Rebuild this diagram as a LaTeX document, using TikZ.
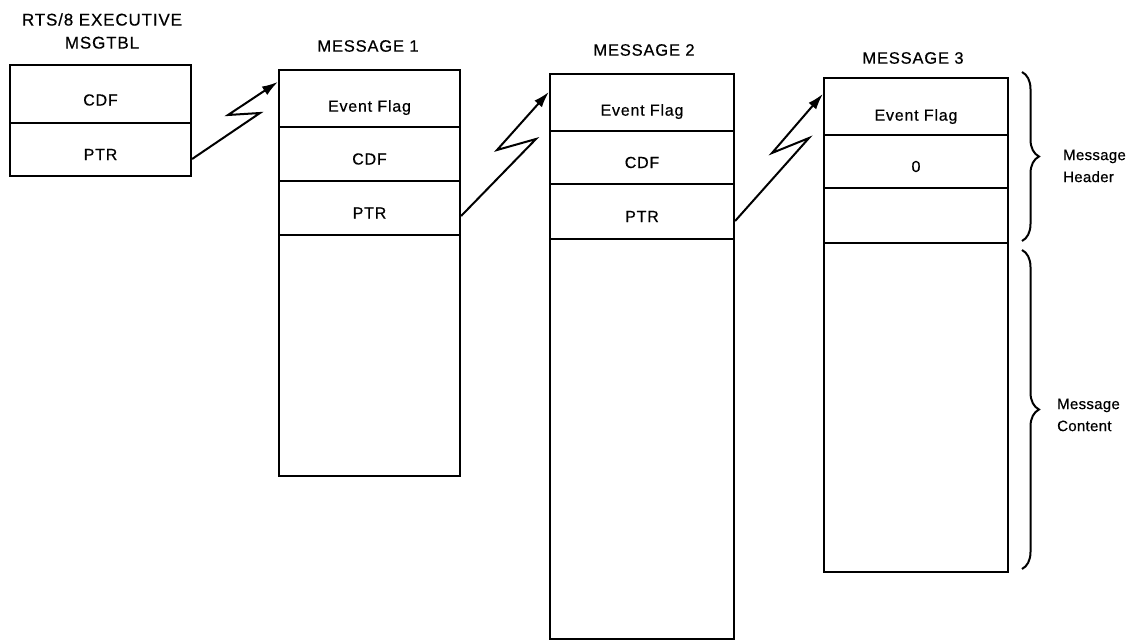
\documentclass[tikz,border=0pt]{standalone}
\usepackage{fontspec}
\setmainfont{Liberation Sans}[LetterSpace=5,FakeBold=0.5]
\newfontfamily\lblfont{Liberation Sans}[LetterSpace=2,FakeBold=0.5]
\usetikzlibrary{arrows.meta,decorations.pathreplacing}
\begin{document}
\begin{tikzpicture}[x=1pt,y=-1pt,
  cell/.style 2 args={draw,line width=2.2pt,inner sep=0pt,minimum width=#1pt,minimum height=#2pt},
  txt/.style={font=\fontsize{16}{19}\selectfont,inner sep=0pt},
  ttl/.style={font=\fontsize{16.5}{23}\selectfont,align=center,inner sep=0pt},
  lbl/.style={font=\lblfont\fontsize{15}{22}\selectfont,align=left,anchor=west,inner sep=0pt},
  conn/.style={line width=2pt,-{Latex[length=16pt,width=10pt]}},
  brc/.style={line width=2pt,decorate,decoration={brace,amplitude=17pt}}
]
\useasboundingbox (0,0) rectangle (1128,642);

% MSGTBL
\node[ttl,font=\fontsize{17}{23}\selectfont] (ttl0) at (102,31) {RTS/8 EXECUTIVE\\MSGTBL};
\node[cell={181}{58}] (t1) at (100.5,94) {};
\node[cell={181}{53}] (t2) at (100.5,149.5) {};
\node[txt] (t1x) at ([yshift=-6pt]t1.center) {CDF};
\node[txt] (t2x) at ([yshift=-5pt]t2.center) {PTR};

% MESSAGE 1
\node[ttl] (ttl1) at (368,46) {MESSAGE 1};
\node[cell={181}{57}] (m1a) at (369.5,98.5) {};
\node[cell={181}{54}] (m1b) at (369.5,154) {};
\node[cell={181}{54}] (m1c) at (369.5,208) {};
\node[cell={181}{241}] (m1d) at (369.5,355.5) {};
\node[txt] (m1ax) at ([yshift=-9pt]m1a.center) {Event Flag};
\node[txt] (m1bx) at ([yshift=-5pt]m1b.center) {CDF};
\node[txt] (m1cx) at ([yshift=-5pt]m1c.center) {PTR};

% MESSAGE 2
\node[ttl] (ttl2) at (644,50) {MESSAGE 2};
\node[cell={184}{57}] (m2a) at (642,102.5) {};
\node[cell={184}{53}] (m2b) at (642,157.5) {};
\node[cell={184}{55}] (m2c) at (642,211.5) {};
\node[cell={184}{400}] (m2d) at (642,439) {};
\node[txt] (m2ax) at ([yshift=-9pt]m2a.center) {Event Flag};
\node[txt] (m2bx) at ([yshift=-5pt]m2b.center) {CDF};
\node[txt] (m2cx) at ([yshift=-5pt]m2c.center) {PTR};

% MESSAGE 3
\node[ttl] (ttl3) at (913,58) {MESSAGE 3};
\node[cell={184}{57}] (m3a) at (916,106.5) {};
\node[cell={184}{53}] (m3b) at (916,161.5) {};
\node[cell={184}{55}] (m3c) at (916,215.5) {};
\node[cell={184}{329}] (m3d) at (916,407.5) {};
\node[txt] (m3ax) at ([yshift=-10pt]m3a.center) {Event Flag};
\node[txt] (m3bx) at ([yshift=-5pt]m3b.center) {0};

% connectors
\draw[conn] ([yshift=-9.5pt]t2.east) -- (260,113) -- (228,115) -- ([yshift=-13pt]m1a.north west);
\draw[conn] ([yshift=-8pt]m1c.east) -- (536,139) -- (497,150) -- ([yshift=-19pt]m2a.north west);
\draw[conn] ([yshift=-9.5pt]m2c.east) -- (809,138) -- (772,153) -- ([yshift=-17pt]m3a.north west);

% braces
\draw[brc] (1022,72) -- (1022,241);
\draw[brc] (1022,250) -- (1022,569);
\node[lbl] (hdr) at (1063,166) {Message\\Header};
\node[lbl] (cnt) at (1057,415) {Message\\Content};
\end{tikzpicture}
\end{document}
